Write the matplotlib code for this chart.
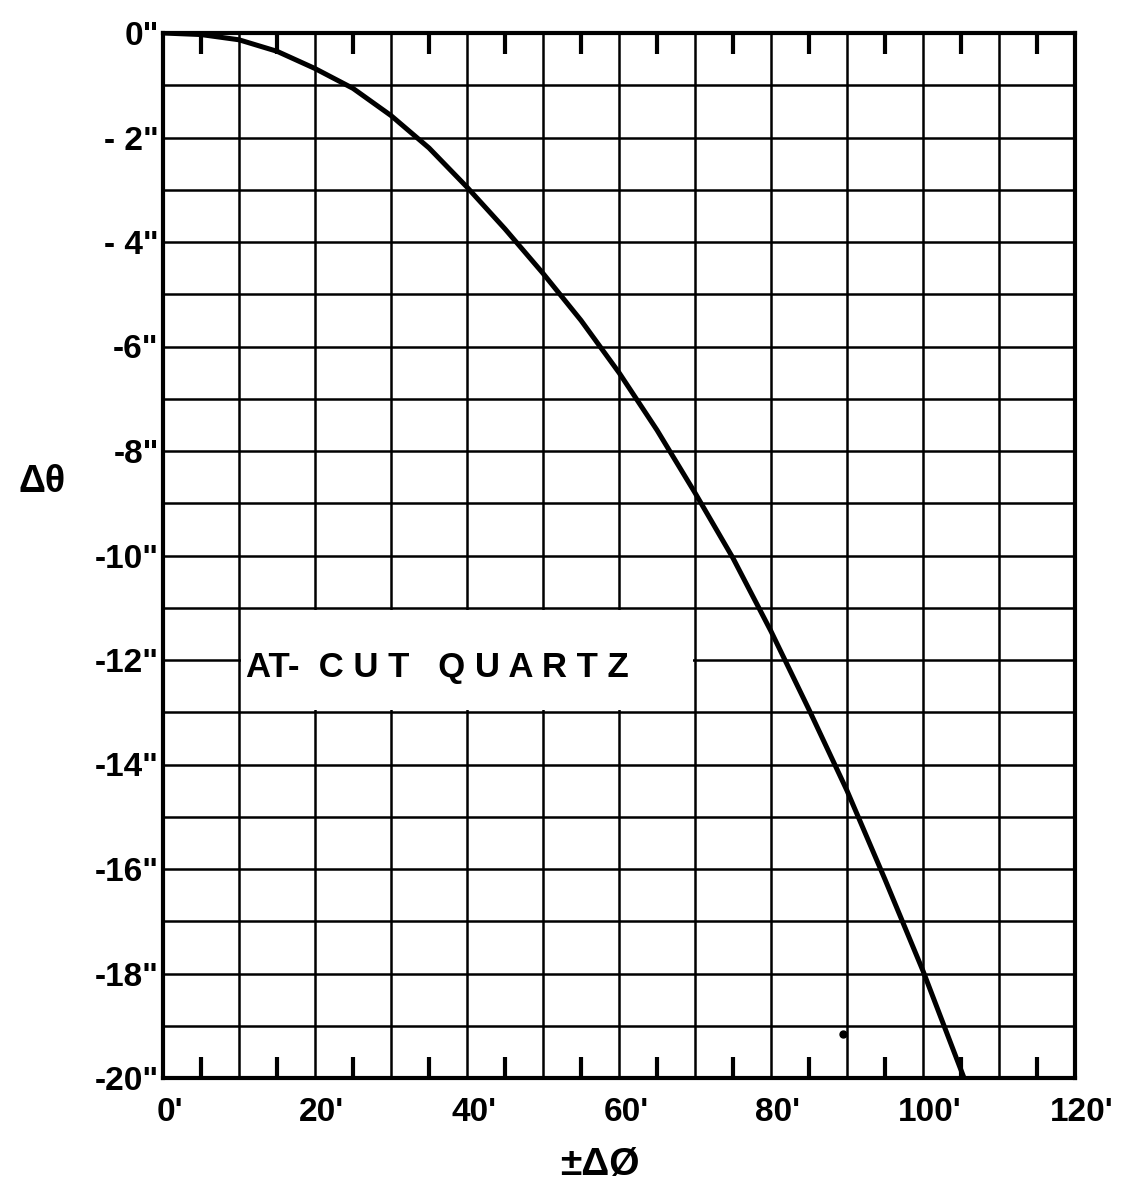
import matplotlib
matplotlib.use("Agg")
import matplotlib.pyplot as plt
from matplotlib.patches import Rectangle
from matplotlib.transforms import ScaledTranslation
import numpy as np

plt.rcParams['font.family'] = ['Liberation Sans', 'DejaVu Sans']
plt.rcParams['font.weight'] = 'bold'

# curve: +/- delta phi (arc minutes) vs delta theta (arc seconds)
phi = [0, 5, 10, 15, 20, 25, 30, 35, 40, 45, 50, 55, 60, 65, 70,
       75, 80, 85, 90, 95, 100, 105.4]
theta = [0, -0.03, -0.13, -0.35, -0.68, -1.06, -1.58, -2.2, -2.95, -3.75, -4.6, -5.5, -6.5, -7.6, -8.8,
         -10.05, -11.45, -12.95, -14.5, -16.2, -17.95, -20]

# stray dot on the original sheet
dot_phi = [89.5]
dot_theta = [-19.15]

x_ticks = [0, 20, 40, 60, 80, 100, 120]
x_labels = ["0'", "20'", "40'", "60'", "80'", "100'", "120'"]
y_ticks = [0, -2, -4, -6, -8, -10, -12, -14, -16, -18, -20]
y_labels = ['0"', '- 2"', '- 4"', '-6"', '-8"', '-10"', '-12"', '-14"', '-16"', '-18"', '-20"']

W, H = 1128, 1204
fig = plt.figure(figsize=(W / 100, H / 100), dpi=100)
ax = fig.add_axes([163 / W, 1 - 1078 / H, (1075 - 163) / W, (1078 - 33) / H])

ax.set_xlim(0, 120)
ax.set_ylim(-20, 0)

# grid paper
for v in range(10, 120, 10):
    ax.axvline(v, color='black', lw=1.8, zorder=1)
for h in range(-19, 0):
    ax.axhline(h, color='black', lw=1.8, zorder=1)

# blank panel behind the label
ax.add_patch(Rectangle((10.25, -12.96), 59.5, 1.92, facecolor='white',
                       edgecolor='none', zorder=2))
ax.text(10.9, -12.15, "AT-  C U T   Q U A R T Z", fontsize=25, fontweight='bold',
        ha='left', va='center', zorder=3)

ax.plot(phi, theta, color='black', lw=3.6, zorder=4, solid_capstyle='butt',
        solid_joinstyle='round')
ax.plot(dot_phi, dot_theta, 'o', color='black', ms=5, zorder=4)

ax.set_xticks(x_ticks)
ax.set_xticklabels(x_labels, fontsize=24, fontweight='bold')
ax.set_yticks(y_ticks)
ax.set_yticklabels(y_labels, fontsize=24, fontweight='bold')
ax.set_xticks(np.arange(5, 120, 10), minor=True)
ax.tick_params(axis='both', which='major', length=0)
ax.tick_params(axis='x', which='major', pad=14)
ax.tick_params(axis='y', which='major', pad=3)
ax.tick_params(axis='x', which='minor', direction='in', length=15, width=3,
               top=True, bottom=True)
ax.tick_params(axis='y', which='minor', length=0)

shift = ScaledTranslation(5 / 72, 0, fig.dpi_scale_trans)
for lab in ax.get_xticklabels():
    lab.set_transform(lab.get_transform() + shift)

for s in ax.spines.values():
    s.set_linewidth(3)
    s.set_zorder(5)

fig.text(42 / W, 1 - 482 / H, "\u0394\u03b8", fontsize=27, fontweight='bold',
         ha='center', va='center')
fig.text(600 / W, 1 - 1165 / H, "\u00b1\u0394\u00d8", fontsize=28, fontweight='bold',
         ha='center', va='center')

fig.savefig("out.png", dpi=100, facecolor='white')
